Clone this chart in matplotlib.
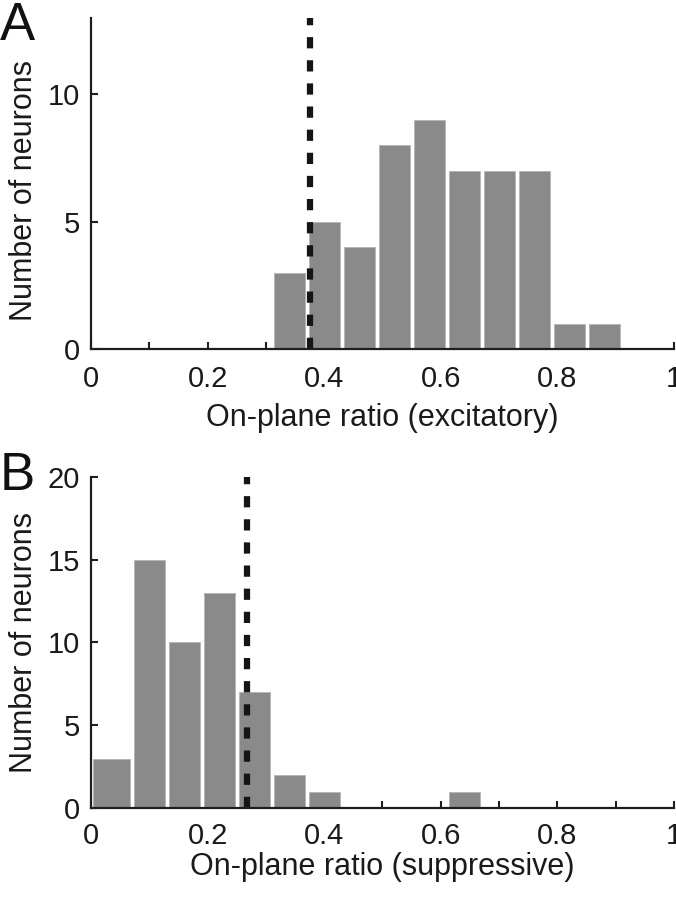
import numpy as np
import matplotlib
matplotlib.use("Agg")
import matplotlib.pyplot as plt
from matplotlib.ticker import MultipleLocator

# ---- data ----
# panel A: on-plane ratio, excitatory
A_CENTERS = [0.34, 0.40, 0.46, 0.52, 0.58, 0.64, 0.70, 0.76, 0.82, 0.88]
A_COUNTS = [3, 5, 4, 8, 9, 7, 7, 7, 1, 1]
A_MARK = 0.376          # dashed reference line
A_YMAX = 13
A_YTICKS = [0, 5, 10]

# panel B: on-plane ratio, suppressive
B_CENTERS = [0.04, 0.10, 0.16, 0.22, 0.28, 0.34, 0.40, 0.46, 0.52, 0.58, 0.64]
B_COUNTS = [3, 15, 10, 13, 7, 2, 1, 0, 0, 0, 1]
B_MARK = 0.267
B_YMAX = 20
B_YTICKS = [0, 5, 10, 15, 20]

XTICKS = [0, 0.2, 0.4, 0.6, 0.8, 1]
XTICK_LABELS = ["0", "0.2", "0.4", "0.6", "0.8", "1"]

BAR_W = 0.0532
BAR_COLOR = "#8a8a8a"
AX_COLOR = "#1e1e1e"
FS = 21        # tick labels
LFS = 22       # axis labels

plt.rcParams['font.family'] = ['Liberation Sans', 'DejaVu Sans']

fig = plt.figure(figsize=(6.76, 8.99), dpi=100)
ax_a = fig.add_axes([0.1346, 0.6115, 0.8624, 0.3685])
ax_b = fig.add_axes([0.1346, 0.1009, 0.8624, 0.3689])


def draw_panel(ax, centers, counts, mark, ymax, yticks, xlabel, xpad, xlab_y, ylab_y):
    centers = np.asarray(centers)
    # the bin touching zero is stretched back to the axis, as in the original
    lefts = np.where(centers < BAR_W, 0.004, centers - BAR_W / 2)
    rights = centers + BAR_W / 2
    ax.bar(lefts, counts, width=rights - lefts, align='edge', color=BAR_COLOR,
           edgecolor='#b5b5b5', linewidth=0.6, zorder=2)
    ax.plot([mark, mark], [0, ymax], color='#151515', linewidth=4.5,
            dashes=(1.8, 1.9), solid_capstyle='butt', dash_capstyle='butt', zorder=3,
            clip_on=False)

    ax.set_xlim(0, 1)
    ax.set_ylim(0, ymax)
    ax.set_xticks(XTICKS)
    ax.set_xticklabels(XTICK_LABELS)
    ax.xaxis.set_minor_locator(MultipleLocator(0.1))
    ax.set_yticks(yticks)

    for side in ['top', 'right']:
        ax.spines[side].set_visible(False)
    for side in ['left', 'bottom']:
        ax.spines[side].set_linewidth(1.6)
        ax.spines[side].set_color(AX_COLOR)
        ax.spines[side].set_zorder(4)

    ax.tick_params(axis='both', which='both', direction='in', length=5, width=1.5,
                   color=AX_COLOR, labelsize=FS, labelcolor='#1a1a1a')
    ax.tick_params(axis='x', which='both', pad=xpad)
    ax.tick_params(axis='y', which='both', pad=8)

    ax.set_xlabel(xlabel, fontsize=LFS, color='#1a1a1a', va='top')
    ax.xaxis.set_label_coords(0.5, xlab_y)
    ax.set_ylabel("Number of neurons", fontsize=LFS, color='#1a1a1a')
    ax.yaxis.set_label_coords(-0.089, ylab_y)


draw_panel(ax_a, A_CENTERS, A_COUNTS, A_MARK, A_YMAX, A_YTICKS,
           "On-plane ratio (excitatory)", 11, -0.163, 0.48)
draw_panel(ax_b, B_CENTERS, B_COUNTS, B_MARK, B_YMAX, B_YTICKS,
           "On-plane ratio (suppressive)", 10, -0.133, 0.5)

fig.text(0.0, 0.9555, "A", fontsize=38, ha='left', va='baseline', color='#111111')
fig.text(0.0, 0.455, "B", fontsize=38, ha='left', va='baseline', color='#111111')

fig.savefig("out.png", dpi=100, facecolor='white')
